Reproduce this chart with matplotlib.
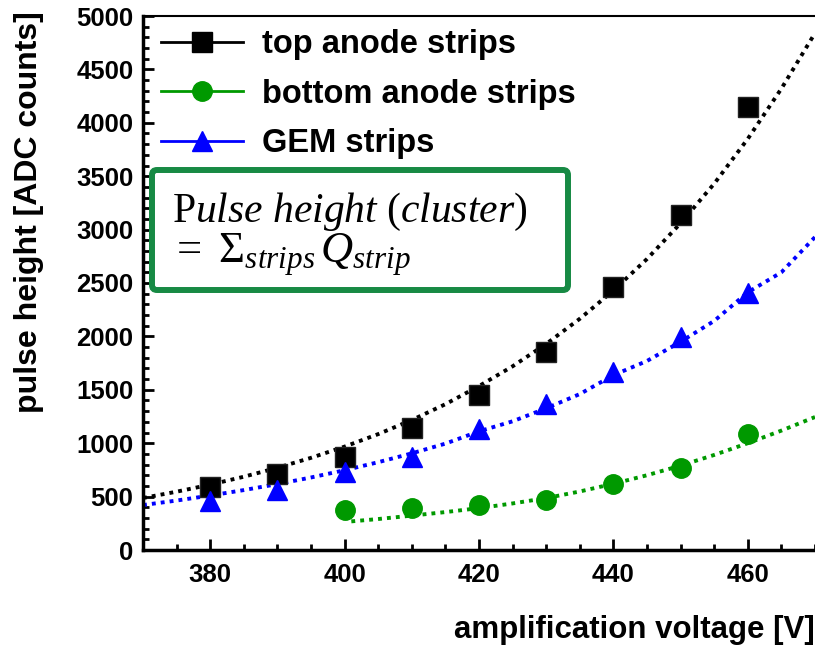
import matplotlib
matplotlib.use("Agg")
import matplotlib.pyplot as plt
from matplotlib.lines import Line2D
from matplotlib.patches import FancyBboxPatch
from matplotlib.ticker import MultipleLocator
import matplotlib.transforms as mtransforms

plt.rcParams['font.family'] = ['Liberation Sans', 'DejaVu Sans']
plt.rcParams['mathtext.fontset'] = 'custom'
plt.rcParams['mathtext.rm'] = 'Liberation Serif'
plt.rcParams['mathtext.it'] = 'Liberation Serif:italic'

# measured points
volt_top = [380, 390, 400, 410, 420, 430, 440, 450, 460]
top_anode = [590, 712, 874, 1139, 1451, 1857, 2465, 3137, 4145]

volt_bottom = [400, 410, 420, 430, 440, 450, 460]
bottom_anode = [375, 390, 421, 468, 618, 771, 1083]

volt_gem = [380, 390, 400, 410, 420, 430, 440, 450, 460]
gem = [460, 562, 733, 874, 1130, 1367, 1670, 1997, 2403]

# fit curves
fit_volt = [370, 375, 380, 385, 390, 395, 400, 405, 410, 415, 420,
            425, 430, 435, 440, 445, 450, 455, 460, 465, 470]
fit_top = [487, 546, 612, 686, 770, 863, 968, 1085, 1217, 1365, 1535,
           1720, 1930, 2165, 2430, 2725, 3060, 3430, 3850, 4320, 4840]
fit_gem = [421, 463, 510, 561, 617, 679, 747, 822, 905, 996, 1111,
           1205, 1327, 1460, 1637, 1770, 1950, 2145, 2413, 2600, 2930]
fit_bot_volt = [401, 405, 410, 415, 420, 425, 430, 435, 440, 445,
                450, 455, 460, 465, 470]
fit_bottom = [268, 290, 322, 355, 392, 436, 486, 548, 620, 700,
              790, 890, 1000, 1118, 1245]

labels = ["top anode strips", "bottom anode strips", "GEM strips"]
colors = ["black", "#009900", "#0000ff"]

fig = plt.figure(figsize=(8.15, 6.46), dpi=100)
ax = fig.add_axes([143 / 815, 1 - 550 / 646, 672 / 815, 534 / 646])

dot = (0, (1.0, 1.3))
ax.plot(fit_volt, fit_top, color=colors[0], lw=2.8, ls=dot)
ax.plot(fit_volt, fit_gem, color=colors[2], lw=2.8, ls=dot)
ax.plot(fit_bot_volt, fit_bottom, color=colors[1], lw=2.8, ls=dot)

ax.plot(volt_top, top_anode, 's', color=colors[0], ms=14.5, mec='#222222')
ax.plot(volt_bottom, bottom_anode, 'o', color=colors[1], ms=14)
ax.plot(volt_gem, gem, '^', color=colors[2], ms=15)

ax.set_xlim(370, 470)
ax.set_ylim(0, 5000)
ax.xaxis.set_major_locator(MultipleLocator(20))
ax.xaxis.set_minor_locator(MultipleLocator(5))
ax.yaxis.set_major_locator(MultipleLocator(500))
ax.yaxis.set_minor_locator(MultipleLocator(100))
ax.tick_params(which='both', direction='in', width=2, top=False, right=False)
ax.tick_params(which='major', length=8)
ax.tick_params(which='minor', length=4)
ax.tick_params(axis='y', labelsize=18.5, pad=7)
ax.tick_params(axis='x', labelsize=18.5, pad=9)
for t in ax.get_xticklabels() + ax.get_yticklabels():
    t.set_fontweight('bold')
for s in ['left', 'bottom']:
    ax.spines[s].set_linewidth(2.5)
ax.spines['top'].set_linewidth(1.5)
ax.spines['right'].set_visible(False)

fig.text(1.0, 1 - 630 / 646, "amplification voltage [V]", ha='right', va='center',
         fontsize=22.5, fontweight='bold')
fig.text(29 / 815, 1 - 11 / 646, "pulse height [ADC counts]", rotation=90, ha='center',
         va='top', fontsize=23, fontweight='bold')

# legend with solid handle lines
handles = [
    Line2D([], [], color=colors[0], marker='s', ms=14.5, lw=2),
    Line2D([], [], color=colors[1], marker='o', ms=14, lw=2),
    Line2D([], [], color=colors[2], marker='^', ms=15, lw=2),
]
leg = ax.legend(handles, labels, loc='upper left', bbox_to_anchor=(18 / 672, 1 - 13 / 534),
                frameon=False, borderpad=0, borderaxespad=0, handlelength=2.5,
                handletextpad=0.6, labelspacing=0.57, prop={'size': 23.5, 'weight': 'bold'})

# green formula box
ident = mtransforms.IdentityTransform()
box = FancyBboxPatch((152, 646 - 290), 416, 120, boxstyle='round,pad=0,rounding_size=5',
                     transform=ident, facecolor='white', edgecolor='#178a44', lw=4.3, zorder=5)
fig.patches.append(box)
box.set_figure(fig)
fig.text(172 / 815, 1 - 222 / 646, r'$\mathrm{P}ulse\ height\ (cluster)$', fontsize=30,
         ha='left', va='baseline', zorder=6)
fig.text(170 / 815, 1 - 263 / 646, r'$=\ \Sigma_{strips}\,Q_{strip}$', fontsize=32,
         ha='left', va='baseline', zorder=6)

fig.savefig("out.png", dpi=100)
